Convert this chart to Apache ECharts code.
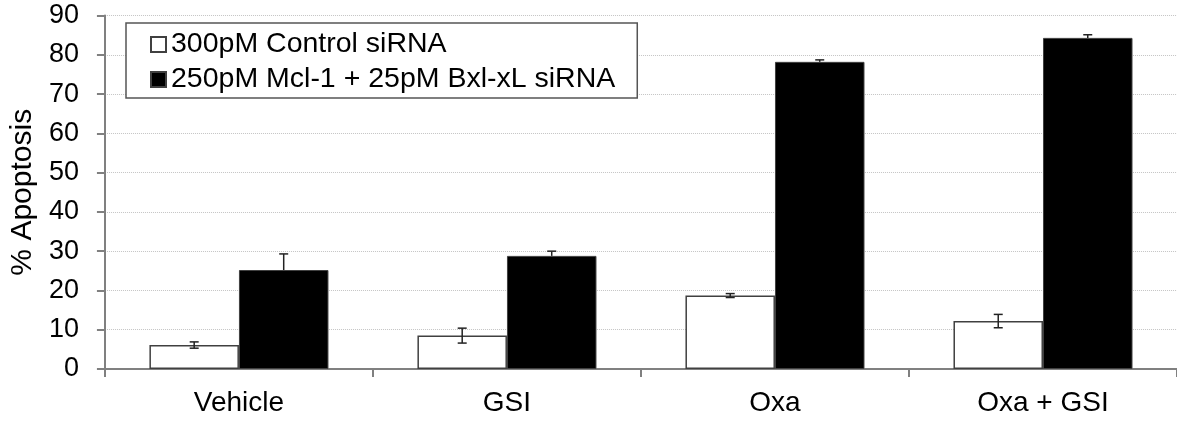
<!DOCTYPE html>
<html>
<head>
<meta charset="utf-8">
<script src="https://cdn.jsdelivr.net/npm/echarts@6/dist/echarts.min.js"></script>
<style>
html,body{margin:0;padding:0;background:#fff;}
#chart{width:1177px;height:421px;}
</style>
</head>
<body>
<div id="chart"></div>
<script>
const categories = ['Vehicle', 'GSI', 'Oxa', 'Oxa + GSI'];
const seriesNames = ['300pM Control siRNA', '250pM Mcl-1 + 25pM Bxl-xL siRNA'];
const controlValues = [6.1, 8.5, 18.7, 12.2];
const controlErrors = [0.8, 1.9, 0.5, 1.7];
const knockdownValues = [25.2, 28.8, 78.2, 84.3];
const knockdownErrors = [4.1, 1.2, 0.5, 0.8];
const yTicks = [0, 10, 20, 30, 40, 50, 60, 70, 80, 90];

const FONT = "'Liberation Sans', Arial, sans-serif";
const BAR_RATIO = 0.334;

// [category index, value, error, side (-1 left bar / +1 right bar), upper only]
const errData = [];
controlValues.forEach((v, i) => errData.push([i, v, controlErrors[i], -1, 0]));
knockdownValues.forEach((v, i) => errData.push([i, v, knockdownErrors[i], 1, 1]));

const chart = echarts.init(document.getElementById('chart'), null, {renderer: 'canvas'});
chart.setOption({
  animation: false,
  backgroundColor: '#fff',
  grid: {left: 104, top: 15.5, width: 1078, bottom: 52, containLabel: false},
  legend: {
    orient: 'vertical',
    left: 126, top: 23,
    padding: [7, 22, 4, 24],
    itemGap: 6,
    itemWidth: 15, itemHeight: 15,
    icon: 'rect',
    borderColor: '#555', borderWidth: 1.5,
    backgroundColor: '#fff',
    textStyle: {fontFamily: FONT, fontSize: 28.5, color: '#000'},
    data: seriesNames
  },
  xAxis: {
    type: 'category',
    data: categories,
    axisLine: {lineStyle: {color: '#808080', width: 2}},
    axisTick: {show: true, length: 8, interval: 0, lineStyle: {color: '#808080', width: 2}},
    axisLabel: {fontFamily: FONT, fontSize: 28, color: '#000', margin: 20, interval: 0}
  },
  yAxis: {
    type: 'value',
    min: yTicks[0], max: yTicks[yTicks.length - 1], interval: 10,
    name: '% Apoptosis',
    nameLocation: 'middle',
    nameGap: 65,
    nameTextStyle: {fontFamily: FONT, fontSize: 30, color: '#000'},
    axisLine: {show: true, lineStyle: {color: '#808080', width: 2}},
    axisTick: {show: true, length: 8, lineStyle: {color: '#808080', width: 2}},
    axisLabel: {fontFamily: FONT, fontSize: 27, color: '#000', margin: 26},
    splitLine: {show: true, lineStyle: {color: '#c4c4c4', type: 'dotted', width: 1}}
  },
  series: [
    {
      name: seriesNames[0], type: 'bar', data: controlValues,
      barWidth: (BAR_RATIO * 100) + '%', barGap: '0%',
      itemStyle: {color: '#fff', borderColor: '#404040', borderWidth: 1.5}
    },
    {
      name: seriesNames[1], type: 'bar', data: knockdownValues,
      barWidth: (BAR_RATIO * 100) + '%', barGap: '0%',
      itemStyle: {color: '#000', borderColor: '#404040', borderWidth: 1}
    },
    {
      type: 'custom',
      data: errData,
      z: 10,
      silent: true,
      encode: {x: 0, y: 1},
      renderItem: function (params, api) {
        const ci = api.value(0), v = api.value(1), e = api.value(2), side = api.value(3), upperOnly = api.value(4);
        const catW = api.size([1, 0])[0];
        const bw = catW * BAR_RATIO;
        const c = api.coord([ci, v]);
        const x = c[0] + side * bw / 2;
        const top = api.coord([ci, v + e])[1];
        const bot = upperOnly ? c[1] : api.coord([ci, v - e])[1];
        const hw = 4.5;
        const style = {stroke: '#222', lineWidth: 1.5, fill: null};
        const children = [
          {type: 'line', shape: {x1: x, y1: top, x2: x, y2: bot}, style: style},
          {type: 'line', shape: {x1: x - hw, y1: top, x2: x + hw, y2: top}, style: style}
        ];
        if (!upperOnly) {
          children.push({type: 'line', shape: {x1: x - hw, y1: bot, x2: x + hw, y2: bot}, style: style});
        }
        return {type: 'group', children: children};
      }
    }
  ]
});
</script>
</body>
</html>
